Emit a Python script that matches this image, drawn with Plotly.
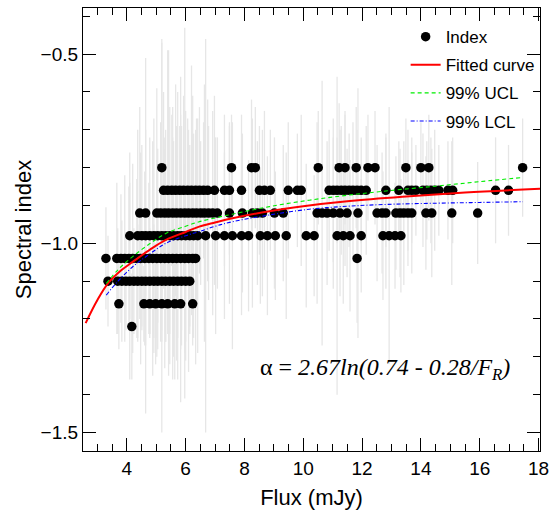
import plotly.graph_objects as go

# ---------------- data ----------------
levels = [-0.80, -0.86, -0.92, -0.98, -1.04, -1.10, -1.16, -1.22]

flux_080 = [5.19, 7.56, 8.24, 8.37, 10.51, 11.22, 11.42, 11.80, 12.20, 12.44, 13.49, 14.00, 14.27, 17.46]
err_080 = [0.33, 0.14, 0.18, 0.16, 0.15, 0.17, 0.15, 0.16, 0.14, 0.15, 0.13, 0.12, 0.14, 0.13]

flux_086 = [5.25, 5.39, 5.53, 5.66, 5.80, 5.93, 6.07, 6.20, 6.34, 6.47, 6.61, 6.75, 6.98, 7.32, 7.49,
            7.90, 8.51, 8.68, 8.88, 9.49, 9.80, 9.93, 10.88, 11.02, 11.15, 11.29, 11.42, 11.56, 11.69,
            11.83, 11.97, 12.14, 12.81, 13.25, 13.56, 13.69, 13.83, 14.07, 14.20, 14.34, 14.47, 14.61,
            14.92, 15.08, 16.54, 16.98]
err_086 = [0.26, 0.37, 0.20, 0.28, 0.17, 0.25, 0.19, 0.33, 0.16, 0.22, 0.18, 0.24, 0.25, 0.20, 0.17,
           0.20, 0.17, 0.21, 0.16, 0.18, 0.15, 0.20, 0.16, 0.19, 0.14, 0.17, 0.20, 0.15, 0.18,
           0.16, 0.14, 0.17, 0.15, 0.13, 0.16, 0.14, 0.12, 0.15, 0.13, 0.14, 0.16, 0.12,
           0.13, 0.14, 0.14, 0.12]

flux_092 = [4.44, 4.64, 5.02, 5.15, 5.29, 5.42, 5.56, 5.69, 5.83, 5.97, 6.10, 6.24, 6.37, 6.51, 6.64,
            6.78, 6.92, 7.08, 7.49, 7.93, 8.27, 8.44, 8.61, 9.02, 9.32, 10.47, 10.64, 10.81, 11.02,
            11.25, 11.49, 11.86, 12.51, 12.68, 12.81, 13.15, 13.29, 13.42, 13.56, 13.69, 14.17,
            14.37, 15.05, 15.93]
err_092 = [0.28, 0.22, 0.33, 0.24, 0.20, 0.43, 0.28, 0.23, 0.36, 0.49, 0.22, 0.31, 0.25, 0.19, 0.34,
           0.23, 0.27, 0.20, 0.24, 0.21, 0.25, 0.19, 0.22, 0.20, 0.18, 0.24, 0.35, 0.19, 0.20,
           0.22, 0.17, 0.33, 0.18, 0.16, 0.20, 0.15, 0.17, 0.19, 0.14, 0.16, 0.15,
           0.17, 0.19, 0.135]

flux_098 = [4.10, 4.37, 4.51, 4.64, 4.78, 4.92, 5.05, 5.19, 5.32, 5.46, 5.59, 5.73, 5.86, 6.00, 6.14,
            6.27, 6.41, 6.68, 7.02, 7.32, 7.59, 7.90, 8.14, 8.54, 8.78, 9.05, 9.42, 10.10, 10.37,
            11.15, 11.36, 11.59, 11.97, 12.71, 12.92, 13.12, 13.32]
err_098 = [0.22, 0.28, 0.24, 0.47, 0.26, 0.31, 0.23, 0.52, 0.28, 0.34, 0.25, 0.38, 0.29, 0.33, 0.24,
           0.27, 0.31, 0.52, 0.26, 0.22, 0.30, 0.21, 0.20, 0.18, 0.21, 0.17, 0.22, 0.19, 0.16,
           0.42, 0.18, 0.20, 0.15, 0.17, 0.34, 0.14, 0.15]

flux_104 = [3.29, 3.66, 3.80, 3.93, 4.07, 4.20, 4.34, 4.47, 4.61, 4.75, 4.88, 5.02, 5.15, 5.29, 5.42,
            5.56, 5.69, 5.83, 5.97, 6.10, 6.24, 6.34, 11.83]
err_104 = [0.135, 0.20, 0.17, 0.22, 0.19, 0.25, 0.21, 0.28, 0.23, 0.20, 0.31, 0.26, 0.22, 0.29, 0.24,
           0.32, 0.27, 0.38, 0.25, 0.30, 0.23, 0.28, 0.17]

flux_110 = [3.36, 3.69, 3.83, 3.97, 4.10, 4.24, 4.37, 4.51, 4.64, 4.78, 4.92, 5.05, 5.19, 5.32, 5.46,
            5.59, 5.73, 5.86, 6.00, 6.14]
err_110 = [0.12, 0.14, 0.16, 0.13, 0.26, 0.14, 0.15, 0.13, 0.17, 0.14, 0.15, 0.18, 0.13, 0.16, 0.14,
           0.20, 0.15, 0.13, 0.16, 0.14]

flux_116 = [3.73, 4.58, 4.78, 4.98, 5.19, 5.39, 5.63, 5.83, 6.24]
err_116 = [0.12, 0.10, 0.09, 0.16, 0.10, 0.08, 0.20, 0.10, 0.09]

flux_122 = [4.17]
err_122 = [0.14]

# fitted curve  alpha = 2.67 ln(0.74 - 0.28/F_R), as drawn
fit_x = [2.60, 3.00, 3.36, 3.80, 4.20, 4.80, 5.33, 6.00, 6.46, 7.00, 7.59, 8.85, 10.0, 11.5, 13.37, 15.5, 18.05]
fit_y = [-1.211, -1.150, -1.106, -1.072, -1.049, -1.016, -0.991, -0.970, -0.956, -0.945, -0.934,
         -0.915, -0.902, -0.889, -0.877, -0.866, -0.856]

ucl_x = [3.30, 3.70, 4.20, 4.80, 5.33, 6.00, 6.46, 7.00, 7.59, 8.85, 10.2, 11.5, 12.9, 14.5, 16.0, 17.47]
ucl_y = [-1.106, -1.070, -1.035, -1.000, -0.974, -0.955, -0.943, -0.933, -0.923, -0.903, -0.886,
         -0.873, -0.861, -0.849, -0.837, -0.826]

lcl_x = [3.30, 3.70, 4.20, 4.80, 5.33, 6.00, 6.46, 7.00, 7.59, 8.85, 10.2, 11.5, 12.9, 14.5, 16.0, 17.47]
lcl_y = [-1.137, -1.100, -1.062, -1.027, -1.000, -0.980, -0.969, -0.955, -0.943, -0.925, -0.910,
         -0.902, -0.897, -0.894, -0.892, -0.890]

x_tickvals = [4, 6, 8, 10, 12, 14, 16, 18]
y_tickvals = [-1.5, -1.0, -0.5]

# ---------------- assemble ----------------
rows = [(flux_080, err_080), (flux_086, err_086), (flux_092, err_092), (flux_098, err_098),
        (flux_104, err_104), (flux_110, err_110), (flux_116, err_116), (flux_122, err_122)]
px, py, pe = [], [], []
for lev, (fx, fe) in zip(levels, rows):
    n = min(len(fx), len(fe))
    px += fx[:n]
    py += [lev] * n
    pe += fe[:n]

FONT = "Liberation Sans, Arial, sans-serif"

fig = go.Figure()
fig.add_trace(go.Scatter(
    x=px, y=py, mode="markers", name="Index", legendgroup="a",
    marker=dict(color="black", size=9.5, line=dict(width=0)),
    error_y=dict(type="data", array=pe, visible=True, color="#e6e6e6", thickness=1.3, width=0),
))
fig.add_trace(go.Scatter(x=fit_x, y=fit_y, mode="lines", name="Fitted curve", legendgroup="b",
                         line=dict(color="#ff0000", width=2, shape="spline")))
fig.add_trace(go.Scatter(x=ucl_x, y=ucl_y, mode="lines", name="99% UCL", legendgroup="c",
                         line=dict(color="#00ee00", width=1.1, dash="4px,3px", shape="spline")))
fig.add_trace(go.Scatter(x=lcl_x, y=lcl_y, mode="lines", name="99% LCL", legendgroup="d",
                         line=dict(color="#0000ff", width=1.1, dash="4px,2px,1px,2px", shape="spline")))

axis_common = dict(
    showline=True, linecolor="black", linewidth=1.3, mirror="ticks",
    ticks="inside", ticklen=13, tickwidth=1.3, tickcolor="black",
    showgrid=False, zeroline=False,
    tickfont=dict(family=FONT, size=19, color="black"),
)
fig.update_xaxes(
    **axis_common, range=[2.51, 18.05], tickvals=x_tickvals,
    minor=dict(dtick=0.5, tick0=0, ticks="inside", ticklen=7, tickwidth=1, tickcolor="black", showgrid=False),
    title=dict(text="Flux (mJy)", font=dict(family=FONT, size=22, color="black"), standoff=11),
)
fig.update_yaxes(
    **axis_common, range=[-1.549, -0.378], tickvals=y_tickvals, tickformat=".1f",
    minor=dict(dtick=0.1, tick0=0, ticks="inside", ticklen=7, tickwidth=1, tickcolor="black", showgrid=False),
    title=dict(text="Spectral index", font=dict(family=FONT, size=22, color="black"), standoff=2),
)

fig.add_annotation(
    xref="paper", yref="paper", x=0.66, y=0.185, xanchor="center", yanchor="middle",
    text="α = <i>2.67ln(0.74 - 0.28/F<sub>R</sub>)</i>", showarrow=False,
    font=dict(family="Liberation Serif, Times New Roman, serif", size=24, color="black"),
)

fig.update_layout(
    width=555, height=519,
    margin=dict(l=83, r=15, t=8, b=68, autoexpand=False),
    paper_bgcolor="white", plot_bgcolor="white",
    showlegend=True,
    legend=dict(x=0.706, y=0.975, xanchor="left", yanchor="top", bgcolor="rgba(0,0,0,0)",
                font=dict(family=FONT, size=17, color="black"), itemwidth=30, tracegroupgap=3),
    font=dict(family=FONT, color="black"),
)

fig.write_html("out.html", config={"displayModeBar": False},
               post_script="document.body.style.margin='0';document.body.style.padding='0';")
